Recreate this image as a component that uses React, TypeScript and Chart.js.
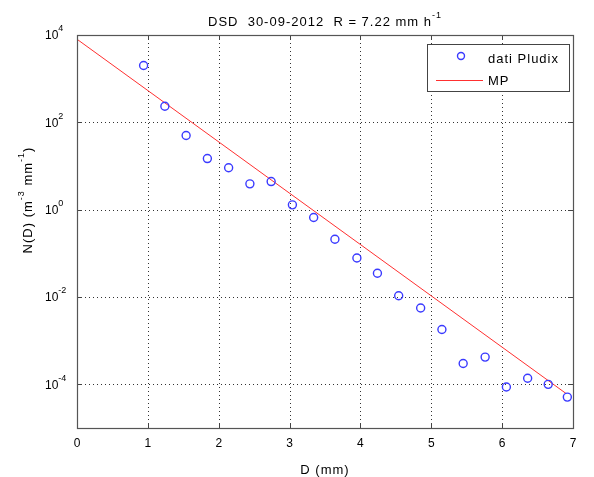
import React, { useEffect, useRef } from "react";
import { Chart, registerables } from "chart.js";
Chart.register(...registerables);

const pludixD = [0.94, 1.24, 1.54, 1.84, 2.14, 2.44, 2.74, 3.04, 3.34, 3.64, 3.95, 4.24, 4.54, 4.85, 5.15, 5.45, 5.76, 6.06, 6.36, 6.65, 6.92];
const pludixN = [2000, 234, 50, 14.8, 9.1, 3.9, 4.4, 1.29, 0.66, 0.21, 0.078, 0.035, 0.0107, 0.0056, 0.0018, 0.0003, 0.00042, 8.7e-5, 1.38e-4, 1.0e-4, 5.1e-5];
const mpD = [0, 6.9];
const mpN = [8000, 6.2e-5];
const xTicks = [0, 1, 2, 3, 4, 5, 6, 7];
const yTickExps = [4, 2, 0, -2, -4];

const FONT = '"Liberation Sans", Arial, sans-serif';
const BLUE = "#3a3aff";
const RED = "#ff3030";

type Part = { t: string; sup?: boolean };

function setSpacing(ctx: any, px: number) {
  if ("letterSpacing" in ctx) ctx.letterSpacing = `${px}px`;
}

function partsWidth(ctx: CanvasRenderingContext2D, parts: Part[], size: number, supSize: number) {
  let w = 0;
  for (const p of parts) {
    ctx.font = `${p.sup ? supSize : size}px ${FONT}`;
    w += ctx.measureText(p.t).width;
  }
  return w;
}

function drawParts(ctx: CanvasRenderingContext2D, parts: Part[], x: number, y: number, size: number, supSize: number, raise: number) {
  let cx = x;
  ctx.textAlign = "left";
  ctx.textBaseline = "middle";
  for (const p of parts) {
    ctx.font = `${p.sup ? supSize : size}px ${FONT}`;
    ctx.fillText(p.t, cx, p.sup ? y - raise : y);
    cx += ctx.measureText(p.t).width;
  }
}

const matlabPlugin = {
  id: "matlab",
  beforeDatasetsDraw(chart: any) {
    const { ctx, chartArea: a, scales } = chart;
    const xs = scales.x, ys = scales.y;
    ctx.save();
    ctx.fillStyle = "#ffffff";
    ctx.fillRect(a.left, a.top, a.right - a.left, a.bottom - a.top);
    ctx.strokeStyle = "#333333";
    ctx.lineWidth = 1;
    ctx.setLineDash([1, 3]);
    for (const v of xTicks) {
      if (v === 0 || v === 7) continue;
      const px = Math.round(xs.getPixelForValue(v)) + 0.5;
      ctx.beginPath();
      ctx.moveTo(px, a.top);
      ctx.lineTo(px, a.bottom);
      ctx.stroke();
    }
    for (const e of yTickExps) {
      if (e === 4) continue;
      const py = Math.round(ys.getPixelForValue(Math.pow(10, e))) + 0.5;
      ctx.beginPath();
      ctx.moveTo(a.left, py);
      ctx.lineTo(a.right, py);
      ctx.stroke();
    }
    ctx.restore();
  },
  afterDatasetsDraw(chart: any) {
    const { ctx, chartArea: a, scales } = chart;
    const xs = scales.x, ys = scales.y;
    ctx.save();
    // ticks
    ctx.strokeStyle = "#444444";
    ctx.lineWidth = 1;
    ctx.setLineDash([]);
    const tl = 5;
    for (const v of xTicks) {
      const px = Math.round(xs.getPixelForValue(v)) + 0.5;
      ctx.beginPath();
      ctx.moveTo(px, a.bottom);
      ctx.lineTo(px, a.bottom - tl);
      ctx.moveTo(px, a.top);
      ctx.lineTo(px, a.top + tl);
      ctx.stroke();
    }
    for (const e of yTickExps) {
      const py = Math.round(ys.getPixelForValue(Math.pow(10, e))) + 0.5;
      ctx.beginPath();
      ctx.moveTo(a.left, py);
      ctx.lineTo(a.left + tl, py);
      ctx.moveTo(a.right, py);
      ctx.lineTo(a.right - tl, py);
      ctx.stroke();
    }
    // frame
    ctx.strokeStyle = "#555555";
    ctx.lineWidth = 1.2;
    ctx.strokeRect(Math.round(a.left) + 0.5, Math.round(a.top) + 0.5, Math.round(a.right - a.left), Math.round(a.bottom - a.top));

    ctx.fillStyle = "#000000";
    // x tick labels
    setSpacing(ctx, 0);
    ctx.font = `12px ${FONT}`;
    ctx.textAlign = "center";
    ctx.textBaseline = "middle";
    for (const v of xTicks) {
      ctx.fillText(String(v), xs.getPixelForValue(v), a.bottom + 16);
    }
    // y tick labels
    for (const e of yTickExps) {
      const py = ys.getPixelForValue(Math.pow(10, e));
      drawParts(ctx, [{ t: "10" }, { t: String(e), sup: true }], 45, py + 1, 12, 9, 7);
    }
    // x title
    setSpacing(ctx, 1);
    ctx.font = `13px ${FONT}`;
    ctx.textAlign = "center";
    ctx.fillText("D (mm)", (a.left + a.right) / 2, a.bottom + 42);
    // title
    const tParts: Part[] = [{ t: "DSD  30-09-2012  R = 7.22 mm h" }, { t: "-1", sup: true }];
    const tw = partsWidth(ctx, tParts, 13, 9);
    drawParts(ctx, tParts, (a.left + a.right) / 2 - tw / 2, 22, 13, 9, 6);
    // y title
    const yParts: Part[] = [{ t: "N(D) (m" }, { t: "-3", sup: true }, { t: " mm" }, { t: "-1", sup: true }, { t: ")" }];
    const yw = partsWidth(ctx, yParts, 13, 9);
    ctx.save();
    ctx.translate(28, 200);
    ctx.rotate(-Math.PI / 2);
    drawParts(ctx, yParts, -yw / 2, 0, 13, 9, 6);
    ctx.restore();

    // legend
    setSpacing(ctx, 0);
    const lx = 427, ly = 44, lw = 142, lh = 47;
    ctx.fillStyle = "#ffffff";
    ctx.fillRect(lx, ly, lw, lh);
    ctx.strokeStyle = "#444444";
    ctx.lineWidth = 1;
    ctx.strokeRect(lx + 0.5, ly + 0.5, lw, lh);
    ctx.strokeStyle = BLUE;
    ctx.lineWidth = 1.4;
    ctx.beginPath();
    ctx.arc(461, 56, 3.5, 0, Math.PI * 2);
    ctx.stroke();
    ctx.strokeStyle = RED;
    ctx.lineWidth = 1;
    ctx.beginPath();
    ctx.moveTo(436, 80.5);
    ctx.lineTo(483, 80.5);
    ctx.stroke();
    ctx.fillStyle = "#000000";
    setSpacing(ctx, 1);
    ctx.font = `13px ${FONT}`;
    ctx.textAlign = "left";
    ctx.textBaseline = "middle";
    ctx.fillText("dati Pludix", 488, 59);
    ctx.fillText("MP", 488, 81);
    setSpacing(ctx, 0);
    ctx.restore();
  },
};

export default function App() {
  const ref = useRef<HTMLCanvasElement | null>(null);
  useEffect(() => {
    document.body.style.margin = "0";
    const canvas = ref.current;
    if (!canvas) return;
    const chart = new Chart(canvas, {
      type: "scatter",
      data: {
        datasets: [
          {
            label: "dati Pludix",
            data: pludixD.map((d, i) => ({ x: d, y: pludixN[i] })),
            showLine: false,
            pointStyle: "circle",
            pointRadius: 4,
            pointBorderWidth: 1.4,
            borderColor: BLUE,
            backgroundColor: "rgba(0,0,0,0)",
            pointBackgroundColor: "rgba(0,0,0,0)",
            pointBorderColor: BLUE,
          },
          {
            label: "MP",
            data: mpD.map((d, i) => ({ x: d, y: mpN[i] })),
            showLine: true,
            pointRadius: 0,
            borderColor: RED,
            borderWidth: 1,
            backgroundColor: RED,
          },
        ],
      },
      options: {
        animation: false,
        responsive: false,
        maintainAspectRatio: false,
        layout: { padding: { top: 35, right: 21, left: 0, bottom: 0 } },
        plugins: { legend: { display: false }, tooltip: { enabled: false }, title: { display: false } },
        scales: {
          x: {
            type: "linear",
            min: 0,
            max: 7,
            ticks: { display: false },
            grid: { display: false },
            border: { display: false },
            afterFit: (s: any) => { s.height = 49; },
          },
          y: {
            type: "logarithmic",
            min: 1e-5,
            max: 1e4,
            ticks: { display: false },
            grid: { display: false },
            border: { display: false },
            afterFit: (s: any) => { s.width = 77; },
          },
        },
      },
      plugins: [matlabPlugin],
    });
    return () => chart.destroy();
  }, []);
  return (
    <div style={{ width: 594, height: 477 }}>
      <canvas ref={ref} width={594} height={477} style={{ display: "block", width: 594, height: 477 }} />
    </div>
  );
}
